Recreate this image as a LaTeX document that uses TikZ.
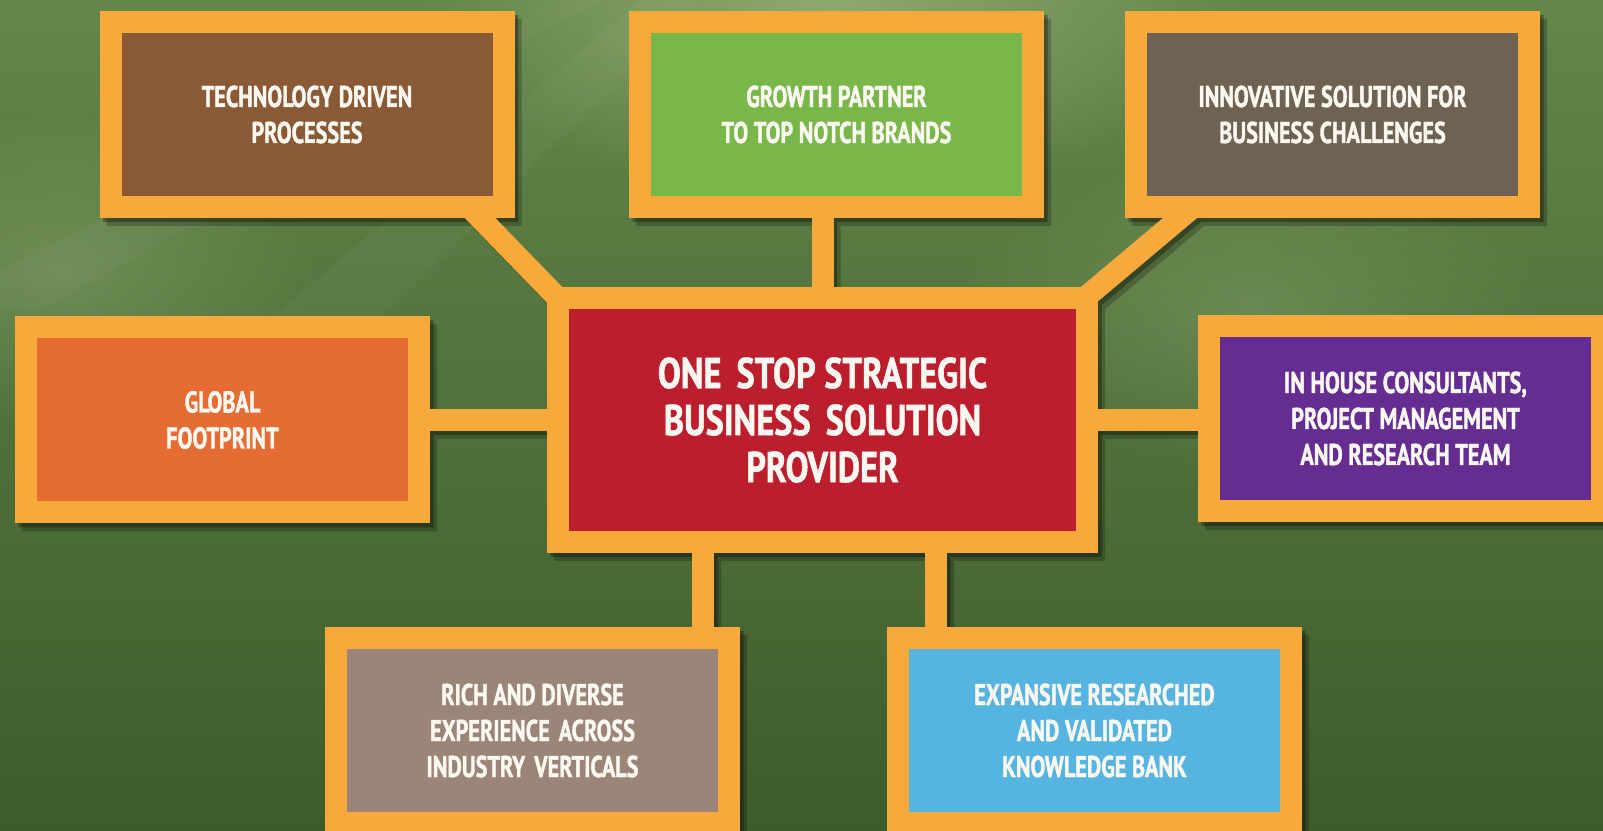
\documentclass[tikz,border=0pt]{standalone}
\usepackage{fontspec}
\newfontfamily\lblfont[FakeStretch=0.74, FakeBold=1.3]{PT Sans}
\newfontfamily\ctrfont[FakeStretch=0.8, FakeBold=1.3]{PT Sans}
\usetikzlibrary{fadings}
\definecolor{bgtop}{HTML}{63864A}
\definecolor{bgbot}{HTML}{3E5C2B}
\definecolor{bglight}{HTML}{9DB47E}
\definecolor{frameor}{HTML}{F8A93C}
\definecolor{fbrown}{HTML}{8A5A36}
\definecolor{fgreen}{HTML}{7AB74A}
\definecolor{fgrey}{HTML}{6E6253}
\definecolor{forange}{HTML}{E56C32}
\definecolor{fred}{HTML}{BD1E2D}
\definecolor{fpurple}{HTML}{652D91}
\definecolor{ftaupe}{HTML}{9B8478}
\definecolor{fblue}{HTML}{56B4E0}
\definecolor{txtwhite}{HTML}{FBF8F2}
\tikzfading[name=glow, inner color=transparent!0, outer color=transparent!100]
\pgfdeclarelayer{bgl}
\pgfdeclarelayer{shd}
\pgfdeclarelayer{conl}
\pgfsetlayers{bgl,shd,conl,main}
\newcommand\connpaths[1]{%
  \draw[#1] (c.center) -- (c.center |- gm.center);
  \draw[#1] (c.center) -- (gl.center);
  \draw[#1] (c.center) -- (c.center -| ri.center);
  \draw[#1] ([xshift=-119.5pt]c.center) -- ([xshift=-119.5pt]c.center |- bl.center);
  \draw[#1] ([xshift=113.5pt]c.center) -- ([xshift=113.5pt]c.center |- br.center);
  \draw[#1, shorten <=-30pt, shorten >=-30pt] ([xshift=173pt]tl.south) -- (c.north west);
  \draw[#1, shorten <=-30pt, shorten >=-30pt] ([xshift=-152.5pt]tr.south) -- (c.north east);
}
\begin{document}
\begin{tikzpicture}[x=1pt,y=1pt,
  box/.style={draw=frameor, line width=22pt, minimum width=393pt, minimum height=185pt,
    inner sep=0pt, text=txtwhite, align=center,
    font=\lblfont\bfseries\fontsize{30}{36}\selectfont},
  bigbox/.style={box, minimum width=529pt, minimum height=244pt,
    font=\ctrfont\bfseries\fontsize{43}{47}\selectfont},
  link/.style={draw=frameor, line width=22pt}]
\useasboundingbox (0,0) rectangle (1603,830);
% boxes
\node[box, fill=fbrown] (tl) at (307,715.5) {TECHNOLOGY DRIVEN\\PROCESSES};
\node[box, fill=fgreen] (gm) at (836.5,715.5) {GROWTH PARTNER\\TO TOP NOTCH BRANDS};
\node[box, fill=fgrey] (tr) at (1332.5,715.5) {INNOVATIVE SOLUTION FOR\\BUSINESS CHALLENGES};
\node[box, fill=forange] (gl) at (222.5,410) {GLOBAL\\FOOTPRINT};
\node[bigbox, fill=fred] (c) at (822.5,410) {ONE\hspace{0.35em}STOP STRATEGIC\\BUSINESS\hspace{0.35em}SOLUTION\\PROVIDER};
\node[box, fill=fpurple] (ri) at (1405.5,411.5) {IN HOUSE CONSULTANTS,\\PROJECT MANAGEMENT\\AND RESEARCH TEAM};
\node[box, fill=ftaupe] (bl) at (532.5,99.5) {RICH AND DIVERSE\\EXPERIENCE\hspace{0.3em}ACROSS\\INDUSTRY\hspace{0.3em}VERTICALS};
\node[box, fill=fblue] (br) at (1094.5,99.5) {EXPANSIVE RESEARCHED\\AND VALIDATED\\KNOWLEDGE BANK};
% connectors
\begin{pgfonlayer}{conl}
  \connpaths{link}
\end{pgfonlayer}
% shadows
\begin{pgfonlayer}{shd}
  \begin{scope}[transform canvas={shift={(7pt,-8pt)}}, transparency group, opacity=0.22]
    \connpaths{draw=black, line width=22pt}
    \foreach \n in {tl,gm,tr,gl,c,ri,bl,br}
      \fill[black] (\n.south west) rectangle (\n.north east);
  \end{scope}
  \begin{scope}[transform canvas={shift={(3.5pt,-4pt)}}, transparency group, opacity=0.3]
    \connpaths{draw=black, line width=22pt}
    \foreach \n in {tl,gm,tr,gl,c,ri,bl,br}
      \fill[black] (\n.south west) rectangle (\n.north east);
  \end{scope}
\end{pgfonlayer}
% background
\begin{pgfonlayer}{bgl}
  \shade[top color=bgtop, bottom color=bgbot] (0,0) rectangle (1603,830);
  \fill[bglight, path fading=glow, opacity=0.75] (830,830) ellipse (420pt and 200pt);
  \fill[bglight, path fading=glow, opacity=0.35] (60,560) ellipse (260pt and 160pt);
  \fill[bglight, path fading=glow, opacity=0.3] (1250,520) ellipse (300pt and 160pt);
  \fill[white, opacity=0.03] (640,830) -- (700,830) -- (250,380) -- (120,380) -- cycle;
  \fill[white, opacity=0.025] (560,830) -- (600,830) -- (40,520) -- (0,520) -- (0,560) -- cycle;
\end{pgfonlayer}
\end{tikzpicture}
\end{document}
